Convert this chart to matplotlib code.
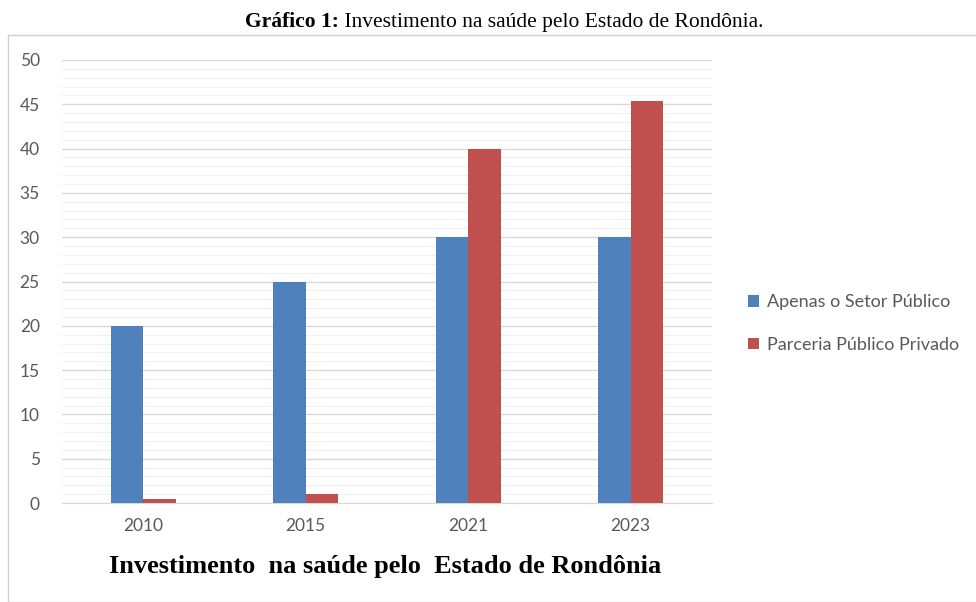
import matplotlib
matplotlib.use("Agg")
import matplotlib.pyplot as plt
import numpy as np
from matplotlib.patches import Rectangle

years = ["2010", "2015", "2021", "2023"]
setor_publico = [20, 25, 30, 30]
parceria = [0.5, 1, 40, 45.4]
labels = ["Apenas o Setor Público", "Parceria Público Privado"]
yticks = [0, 5, 10, 15, 20, 25, 30, 35, 40, 45, 50]

blue = "#4F81BD"
red = "#C0504D"
txt = "#595959"

fig = plt.figure(figsize=(9.76, 6.02), dpi=100)
W, H = 976, 602

# chart border
fig.patches.append(Rectangle((8 / W, 0), 1.2, 1 - 35 / H, transform=fig.transFigure,
                             fill=False, edgecolor="#d0d0d0", linewidth=1))

ax = fig.add_axes([62 / W, 1 - 503 / H, 650 / W, 443 / H])
x = np.arange(len(years))
w = 0.2
ax.bar(x - w / 2, setor_publico, w, color=blue, label=labels[0], zorder=3)
ax.bar(x + w / 2, parceria, w, color=red, label=labels[1], zorder=3)

ax.set_xlim(-0.5, 3.5)
ax.set_ylim(0, 50)
ax.set_yticks(yticks)
ax.set_yticks(np.arange(0, 51, 1), minor=True)
ax.set_xticks(x)
ax.set_xticklabels(years)
ax.grid(axis="y", which="major", color="#d9d9d9", linewidth=1, zorder=0)
ax.grid(axis="y", which="minor", color="#f0f0f0", linewidth=0.8, zorder=0)
for s in ["top", "right", "left"]:
    ax.spines[s].set_visible(False)
ax.spines["bottom"].set_color("#d9d9d9")
ax.tick_params(axis="both", which="both", length=0, labelsize=12.5, labelcolor=txt)
ax.tick_params(axis="y", pad=16)
ax.tick_params(axis="x", pad=11)
for t in ax.get_xticklabels() + ax.get_yticklabels():
    t.set_fontfamily("Lato")

leg = ax.legend(loc="center left", bbox_to_anchor=(1.03, 0.405), frameon=False,
                handlelength=0.6, handleheight=0.6, handletextpad=0.45,
                labelspacing=1.45, prop={"family": "Lato", "size": 13})
for t in leg.get_texts():
    t.set_color(txt)

# top caption: bold prefix + regular text
fig.canvas.draw()
r = fig.canvas.get_renderer()
t1 = fig.text(0, 1 - 22 / H, "Gráfico 1:", ha="left", va="center", fontsize=15.5,
              fontweight="bold", family="Liberation Serif")
t2 = fig.text(0, 1 - 22 / H, " Investimento na saúde pelo Estado de Rondônia.", ha="left",
              va="center", fontsize=15.5, family="Liberation Serif")
w1 = t1.get_window_extent(r).width
w2 = t2.get_window_extent(r).width
x0 = 504 - (w1 + w2) / 2
t1.set_x(x0 / W)
t2.set_x((x0 + w1) / W)

fig.text(385 / W, 1 - 566 / H, "Investimento  na saúde pelo  Estado de Rondônia",
         ha="center", va="center", fontsize=19, fontweight="bold", family="Liberation Serif")

fig.savefig("out.png", dpi=100)
